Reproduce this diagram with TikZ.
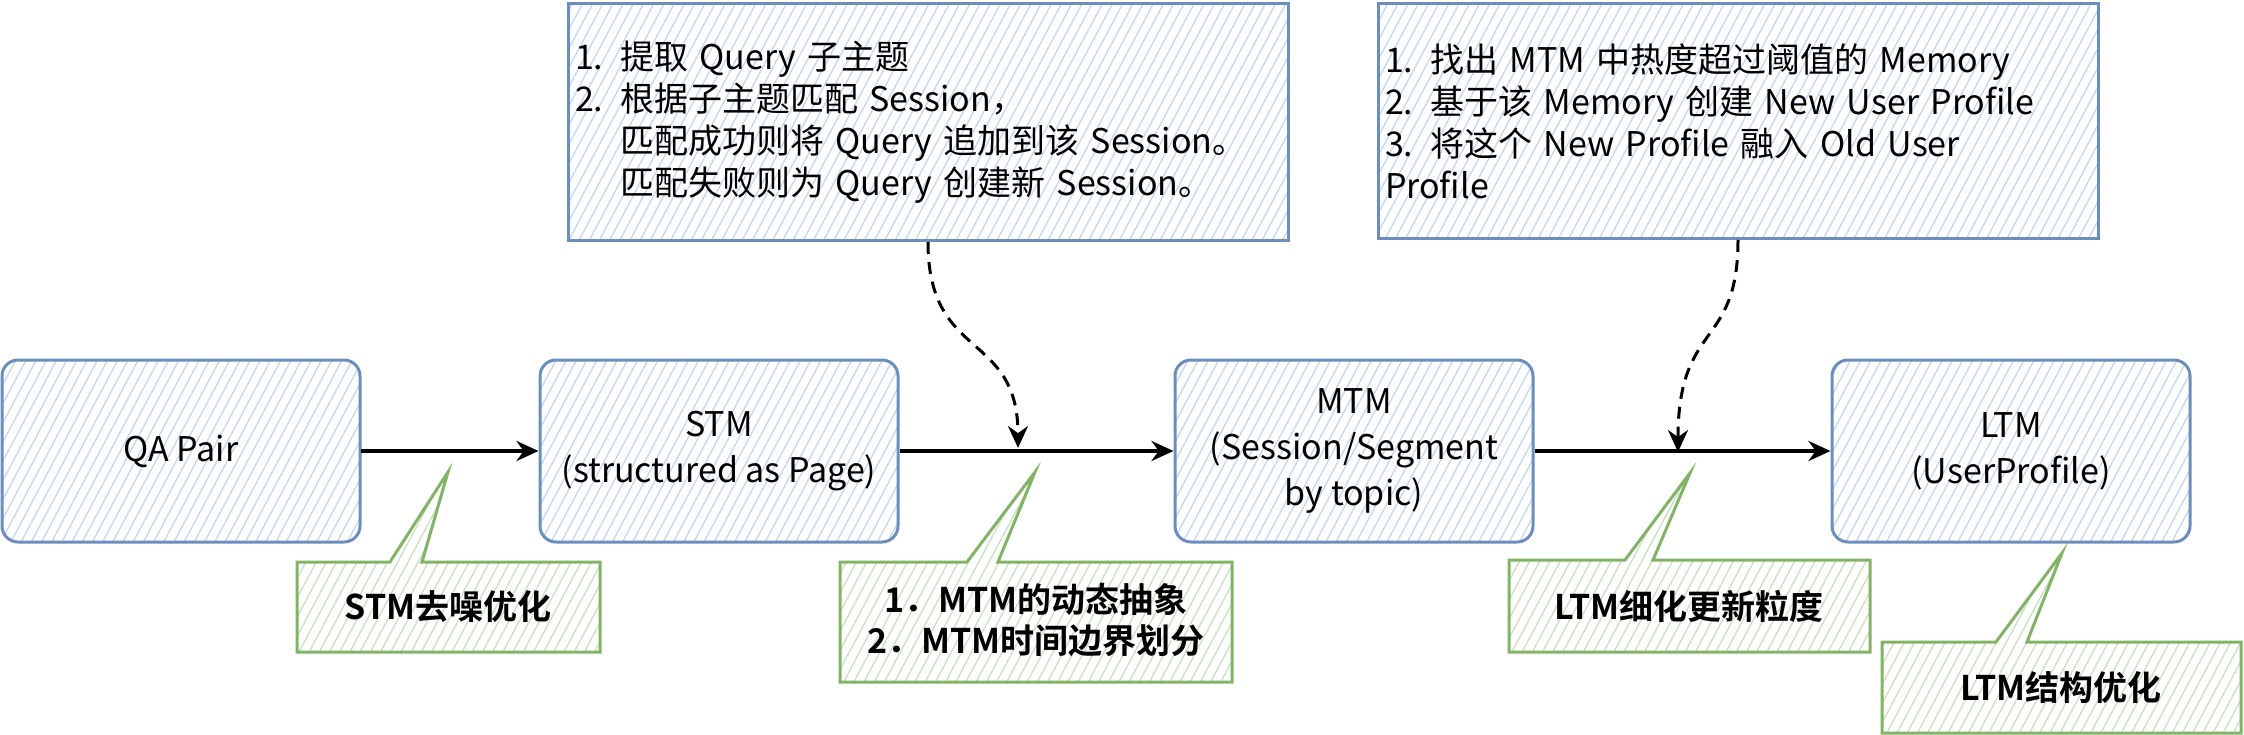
\documentclass[tikz,border=0pt]{standalone}
\usepackage{fontspec}
\setmainfont{Noto Sans CJK SC}[BoldFont={Noto Sans CJK SC Bold}]
\usetikzlibrary{arrows.meta,patterns.meta}
\definecolor{blueline}{HTML}{6C8EBF}
\definecolor{bluehatch}{HTML}{C3D6F0}
\definecolor{greenline}{HTML}{82B366}
\definecolor{greenhatch}{HTML}{C9E0BE}

\begin{document}
\begin{tikzpicture}[x=1pt,y=-1pt,>={Stealth[length=22pt,width=20pt]},
  mem/.style={draw=blueline,line width=3pt,rounded corners=16pt,
    pattern={Lines[angle=62,distance=9pt,line width=1.3pt]},pattern color=bluehatch,
    minimum width=358pt,minimum height=182pt,align=center,font=\fontsize{34}{46}\selectfont},
  note/.style={draw=blueline,line width=3pt,
    pattern={Lines[angle=62,distance=9pt,line width=1.3pt]},pattern color=bluehatch,
    text width=706pt,inner sep=7pt,align=left,font=\fontsize{34}{42}\selectfont},
  gnote/.style={draw=greenline,line width=3pt,
    pattern={Lines[angle=62,distance=9pt,line width=1.3pt]},pattern color=greenhatch},
  gtext/.style={align=center,font=\bfseries\fontsize{34}{41}\selectfont},
  flow/.style={->,line width=4pt},
  dflow/.style={->,line width=3pt,dash pattern=on 12pt off 8pt}]
\useasboundingbox (0,0) rectangle (2244,735);

\node[mem] (qa) at (181,451) {QA Pair};
\node[mem] (stm) at (719,451) {STM\\(structured as Page)};
\node[mem] (mtm) at (1354,451) {MTM\\(Session/Segment\\by topic)};
\node[mem] (ltm) at (2011,451) {LTM\\(UserProfile)};

\draw[flow] (qa.east) -- (stm.west);
\draw[flow] (stm.east) -- (mtm.west);
\draw[flow] (mtm.east) -- (ltm.west);

\node[note,minimum height=237pt] (seg) at (928,122) {1. 提取 Query 子主题\\
2. 根据子主题匹配 Session，\\
\phantom{2. }匹配成功则将 Query 追加到该 Session。\\
\phantom{2. }匹配失败则为 Query 创建新 Session。};
\node[note,minimum height=235pt] (prof) at (1738,121) {1. 找出 MTM 中热度超过阈值的 Memory\\
2. 基于该 Memory 创建 New User Profile\\
3. 将这个 New Profile 融入 Old User\\
Profile};

\coordinate (j1) at (1018,448);
\coordinate (j2) at (1678,452);
\draw[dflow] (seg.south) .. controls +(0,120) and +(0,-118) .. (j1);
\draw[dflow] (prof.south) .. controls +(0,110) and +(0,-132) .. (j2);

\draw[gnote] (297,562) -- (390,562) -- (448,472) -- (422,562) -- (600,562) -- (600,652) -- (297,652) -- cycle;
\node[gtext] (denoise) at (448,607) {STM去噪优化};

\draw[gnote] (840,562) -- (967,562) -- (1035,472) -- (998,562) -- (1232,562) -- (1232,682) -- (840,682) -- cycle;
\node[gtext] (abstr) at (1036,620) {1．MTM的动态抽象\\2．MTM时间边界划分};

\draw[gnote] (1509,560) -- (1625,560) -- (1690,473) -- (1653,560) -- (1870,560) -- (1870,652) -- (1509,652) -- cycle;
\node[gtext] (grain) at (1689,606) {LTM细化更新粒度};

\draw[gnote] (1882,642) -- (1996,642) -- (2062,553) -- (2027,642) -- (2241,642) -- (2241,733) -- (1882,733) -- cycle;
\node[gtext] (struct) at (2061,688) {LTM结构优化};
\end{tikzpicture}
\end{document}
